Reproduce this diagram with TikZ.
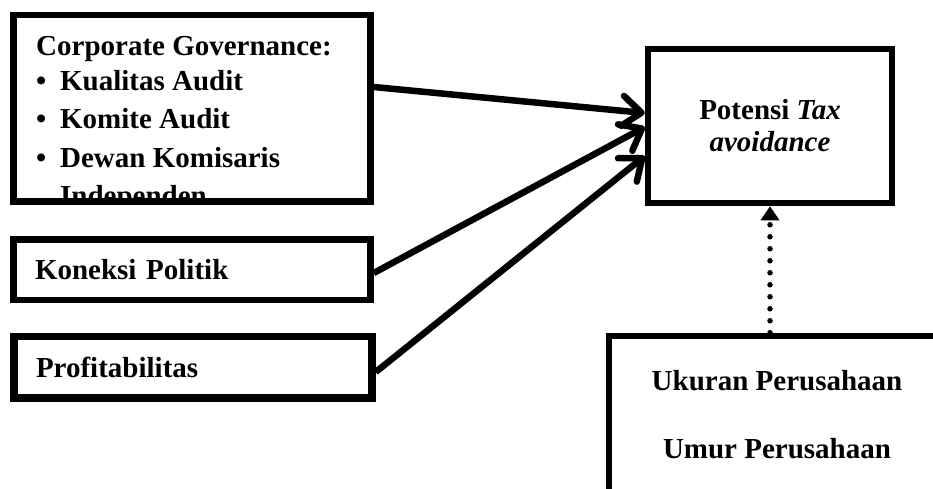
\documentclass[tikz,border=0pt]{standalone}
\usepackage{fontspec}
\setmainfont{Liberation Serif}
\usetikzlibrary{arrows.meta}
\tikzset{
  varbox/.style={draw, rectangle, line width=6.5pt, inner sep=0pt, font=\fontsize{29}{37}\selectfont\bfseries},
  leftbox/.style={varbox, minimum width=357pt, text width=314pt, align=left},
  itemtext/.style={anchor=base west, inner sep=0pt, font=\fontsize{29}{37}\selectfont\bfseries},
  effect/.style={line width=6.5pt, -{Straight Barb[length=19pt,width=30pt,round]}},
  control/.style={line width=5.5pt, line cap=round, dash pattern=on 0pt off 12pt, -{Triangle[length=14pt,width=18pt]}}
}
\begin{document}
\begin{tikzpicture}[x=1pt,y=-1pt]
\useasboundingbox (0,0) rectangle (933,488);
\clip (0,0) rectangle (933,488);
% independent variables
\node (cg) [varbox, minimum width=357pt, minimum height=186.5pt] at (192,108.25) {};
\begin{scope}
\clip (cg.north west) rectangle (cg.south east);
\node (cgtitle) [itemtext] at (36,55) {Corporate Governance:};
\node (kualitas) [itemtext] at (36,90) {\makebox[24pt][l]{\textbullet}Kualitas Audit};
\node (komite) [itemtext] at (36,128) {\makebox[24pt][l]{\textbullet}Komite Audit};
\node (dewan) [itemtext] at (36,167) {\makebox[24pt][l]{\textbullet}Dewan Komisaris};
\node (independen) [itemtext] at (60,205) {Independen};
\end{scope}
\node (koneksi) [leftbox, minimum height=60.5pt] at (192,269.75) {Koneksi Politik};
\node (profit) [leftbox, line width=7.5pt, minimum width=358pt, minimum height=61.5pt] at (193,367.25) {Profitabilitas};
% dependent and control
\node (potensi) [varbox, minimum width=244pt, minimum height=154pt, align=center, font=\fontsize{29}{32}\selectfont\bfseries] at (770,126) {Potensi \textit{Tax}\\\textit{avoidance}};
\node (ukuran) [varbox, minimum width=336pt, minimum height=157pt, align=center, font=\fontsize{29}{68}\selectfont\bfseries] at (777,414.5) {Ukuran Perusahaan\\Umur Perusahaan};

\draw[effect] ([yshift=21.25pt]cg.east) -- ([yshift=13pt]potensi.west);
\draw[effect] ([yshift=-3.25pt]koneksi.east) -- ([yshift=-1pt]potensi.west);
\draw[effect] ([yshift=-4.75pt]profit.east) -- ([yshift=-30pt]potensi.west);
\draw[control] (potensi.south |- ukuran.north) -- (potensi.south);
\end{tikzpicture}
\end{document}
